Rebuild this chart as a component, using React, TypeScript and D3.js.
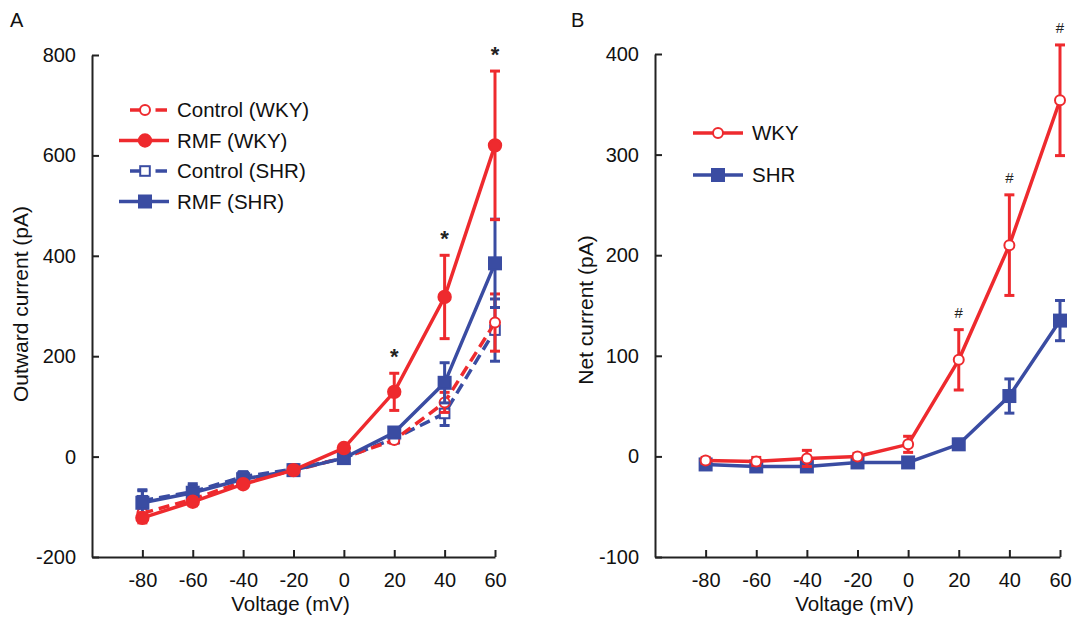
import React, { useEffect, useRef } from 'react';
import * as d3 from 'd3';

const voltages = [-80, -60, -40, -20, 0, 20, 40, 60];

// panel A, outward current (pA)
const ctrlWKY = [-113, -85, -50, -28, -2, 33, 108, 267];
const ctrlWKYErr = [10, 8, 6, 5, 4, 6, 20, 57];
const rmfWKY = [-122, -90, -55, -27, 17, 129, 318, 620];
const rmfWKYErr = [10, 8, 6, 5, 5, 37, 83, 148];
const ctrlSHR = [-88, -70, -40, -25, -3, 36, 86, 252];
const ctrlSHRErr = [20, 12, 10, 6, 4, 6, 24, 62];
const rmfSHR = [-92, -72, -45, -27, -3, 48, 147, 385];
const rmfSHRErr = [26, 18, 10, 6, 5, 8, 40, 88];
const starsAt = [20, 40, 60];

// panel B, net current (pA)
const netWKY = [-4, -5, -2, 0, 12, 96, 210, 354];
const netWKYErr = [3, 4, 8, 3, 8, 30, 50, 55];
const netSHR = [-8, -10, -10, -6, -6, 12, 60, 135];
const netSHRErr = [3, 3, 3, 3, 3, 5, 17, 20];
const hashAt = [20, 40, 60];

const yTicksA = [-200, 0, 200, 400, 600, 800];
const yTicksB = [-100, 0, 100, 200, 300, 400];

const RED = '#ee2a2e';
const BLUE = '#3a4ca2';
const FONT = '"Liberation Sans", Arial, sans-serif';

const App = () => {
  const ref = useRef<SVGSVGElement>(null);

  useEffect(() => {
    const svg = d3.select(ref.current);
    svg.selectAll('*').remove();

    const marker = (sel, shape, open, color, cx, cy) => {
      if (shape === 'circle') {
        sel.append('circle').attr('cx', cx).attr('cy', cy).attr('r', open ? 5 : 6.2)
          .attr('fill', open ? '#fff' : color).attr('stroke', color).attr('stroke-width', 2);
      } else {
        const h = open ? 4.8 : 6;
        sel.append('rect').attr('x', cx - h).attr('y', cy - h).attr('width', 2 * h).attr('height', 2 * h)
          .attr('fill', open ? '#fff' : color).attr('stroke', color).attr('stroke-width', 2);
      }
    };

    const panel = (opts) => {
      const { x0, x1, y0, y1, yDomain, yTicks, series, marks, markChar, markSize, yLabel, letter, letterX } = opts;
      const x = d3.scaleLinear().domain([-100, 60]).range([x0, x1]);
      const y = d3.scaleLinear().domain(yDomain).range([y1, y0]);
      const g = svg.append('g');
      const fmt = d => String(d);

      const yAxis = g.append('g')
        .attr('transform', `translate(${x0},0)`)
        .call(d3.axisLeft(y).tickValues(yTicks).tickFormat(fmt).tickSizeInner(-7).tickSizeOuter(0).tickPadding(16));
      const xAxis = g.append('g')
        .attr('transform', `translate(0,${y1})`)
        .call(d3.axisBottom(x).tickValues(voltages).tickFormat(fmt).tickSizeInner(-7).tickSizeOuter(0).tickPadding(16));
      [yAxis, xAxis].forEach(a => {
        a.selectAll('path, line').attr('stroke', '#222').attr('stroke-width', 2);
        a.selectAll('text').attr('font-family', FONT).attr('font-size', 20).attr('fill', '#111');
      });

      g.append('text')
        .attr('transform', `translate(${letterX},${opts.yLabelMid}) rotate(-90)`)
        .attr('text-anchor', 'middle')
        .attr('font-family', FONT).attr('font-size', 21).attr('fill', '#111')
        .text(yLabel);
      g.append('text')
        .attr('x', (x0 + x1) / 2 - 3).attr('y', 611)
        .attr('text-anchor', 'middle')
        .attr('font-family', FONT).attr('font-size', 20.5).attr('fill', '#111')
        .text('Voltage (mV)');
      g.append('text')
        .attr('x', opts.letterPos[0]).attr('y', opts.letterPos[1])
        .attr('font-family', FONT).attr('font-size', 20).attr('fill', '#111')
        .text(letter);

      const line = d3.line<number>().x((_, i) => x(voltages[i])).y(d => y(d));

      series.forEach(s => {
        const sg = g.append('g');
        // error bars
        s.values.forEach((v, i) => {
          const cx = x(voltages[i]);
          const top = y(v + s.err[i]);
          const bot = y(v - s.err[i]);
          sg.append('line').attr('x1', cx).attr('x2', cx).attr('y1', top).attr('y2', bot)
            .attr('stroke', s.color).attr('stroke-width', 3);
          [top, bot].forEach(yy => sg.append('line')
            .attr('x1', cx - 5).attr('x2', cx + 5).attr('y1', yy).attr('y2', yy)
            .attr('stroke', s.color).attr('stroke-width', 3));
        });
        sg.append('path')
          .attr('d', line(s.values))
          .attr('fill', 'none')
          .attr('stroke', s.color)
          .attr('stroke-width', 3.5)
          .attr('stroke-dasharray', s.dashed ? '11,6' : null);
        s.values.forEach((v, i) => marker(sg, s.shape, s.open, s.color, x(voltages[i]), y(v)));
      });

      // significance marks above the tallest error bar
      marks.forEach(v => {
        const i = voltages.indexOf(v);
        const top = d3.max(series, s => s.values[i] + s.err[i]);
        g.append('text')
          .attr('x', x(v)).attr('y', y(top) - 17)
          .attr('text-anchor', 'middle')
          .attr('dy', '0.35em')
          .attr('font-family', FONT).attr('font-size', markSize)
          .attr('font-weight', markChar === '*' ? 'bold' : 'normal')
          .attr('fill', '#222')
          .text(markChar);
      });

      // legend
      const lg = g.append('g');
      opts.legend.items.forEach((it, k) => {
        const ly = opts.legend.y + k * opts.legend.step;
        const [lx0, lx1] = it.dashed ? opts.legend.dashX : opts.legend.solidX;
        if (it.dashed) {
          const mid = (lx0 + lx1) / 2;
          lg.append('line').attr('x1', lx0).attr('x2', mid - 7).attr('y1', ly).attr('y2', ly)
            .attr('stroke', it.color).attr('stroke-width', 3.5);
          lg.append('line').attr('x1', mid + 7).attr('x2', lx1).attr('y1', ly).attr('y2', ly)
            .attr('stroke', it.color).attr('stroke-width', 3.5);
        } else {
          lg.append('line').attr('x1', lx0).attr('x2', lx1).attr('y1', ly).attr('y2', ly)
            .attr('stroke', it.color).attr('stroke-width', 3.5);
        }
        marker(lg, it.shape, it.open, it.color, opts.legend.markX, ly);
        lg.append('text')
          .attr('x', opts.legend.textX).attr('y', ly).attr('dy', '0.36em')
          .attr('font-family', FONT).attr('font-size', 20.5).attr('fill', '#111')
          .text(it.label);
      });
    };

    const sCtrlWKY = { values: ctrlWKY, err: ctrlWKYErr, color: RED, dashed: true, shape: 'circle', open: true, label: 'Control (WKY)' };
    const sRmfWKY = { values: rmfWKY, err: rmfWKYErr, color: RED, dashed: false, shape: 'circle', open: false, label: 'RMF (WKY)' };
    const sCtrlSHR = { values: ctrlSHR, err: ctrlSHRErr, color: BLUE, dashed: true, shape: 'square', open: true, label: 'Control (SHR)' };
    const sRmfSHR = { values: rmfSHR, err: rmfSHRErr, color: BLUE, dashed: false, shape: 'square', open: false, label: 'RMF (SHR)' };

    panel({
      x0: 92, x1: 495, y0: 55, y1: 557,
      yDomain: [-200, 800], yTicks: yTicksA,
      series: [sCtrlSHR, sCtrlWKY, sRmfSHR, sRmfWKY],
      marks: starsAt, markChar: '*', markSize: 22,
      yLabel: 'Outward current (pA)', letter: 'A', letterX: 28, yLabelMid: 304, letterPos: [10, 27],
      legend: {
        items: [sCtrlWKY, sRmfWKY, sCtrlSHR, sRmfSHR],
        y: 110, step: 30.5, dashX: [130, 167], solidX: [119, 169], markX: 145, textX: 177,
      },
    });

    const sWKY = { values: netWKY, err: netWKYErr, color: RED, dashed: false, shape: 'circle', open: true, label: 'WKY' };
    const sSHR = { values: netSHR, err: netSHRErr, color: BLUE, dashed: false, shape: 'square', open: false, label: 'SHR' };

    panel({
      x0: 655, x1: 1060, y0: 54, y1: 557,
      yDomain: [-100, 400], yTicks: yTicksB,
      series: [sSHR, sWKY],
      marks: hashAt, markChar: '#', markSize: 15,
      yLabel: 'Net current (pA)', letter: 'B', letterX: 593, yLabelMid: 310, letterPos: [571, 27],
      legend: {
        items: [sWKY, sSHR],
        y: 133, step: 42, dashX: [693, 743], solidX: [693, 743], markX: 718, textX: 752,
      },
    });
  }, []);

  return <svg ref={ref} width={1075} height={620} style={{ display: 'block', position: 'absolute', left: 0, top: 0 }} />;
};

export default App;
